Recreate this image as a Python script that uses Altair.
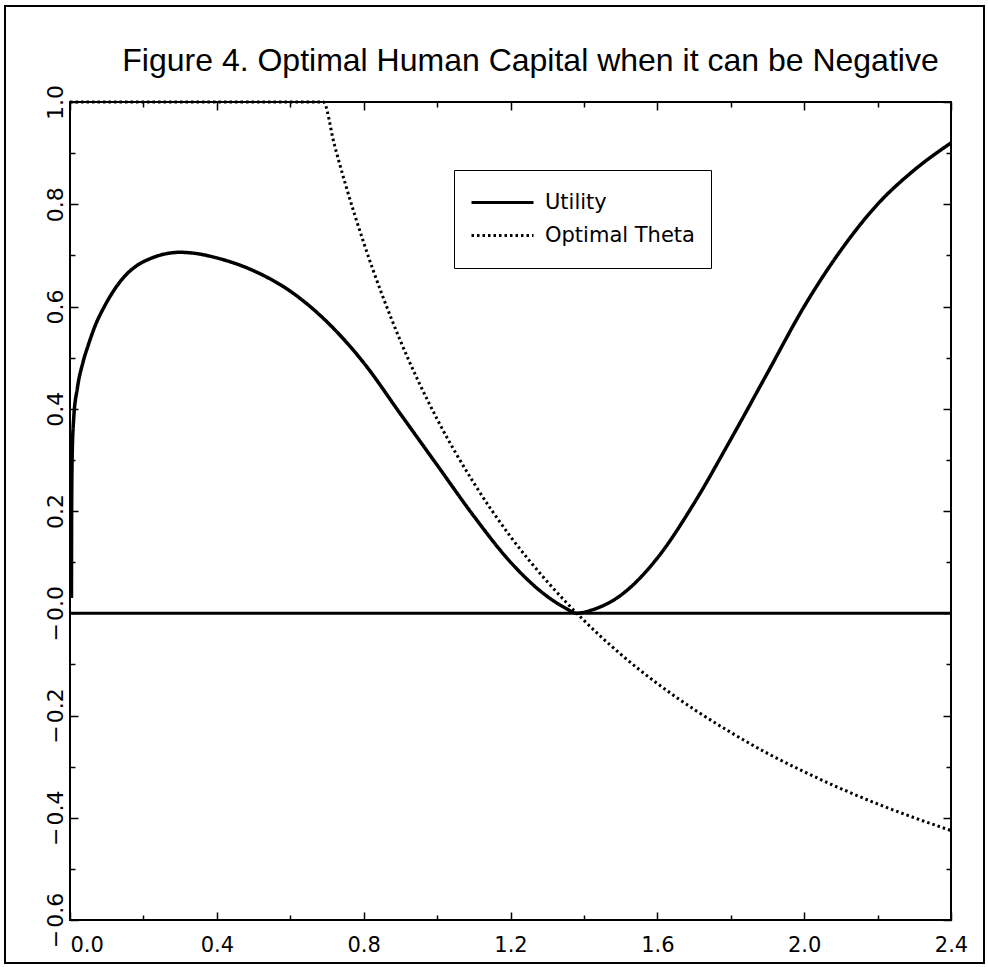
import altair as alt
import pandas as pd

# ---- data ----
series = ["Utility", "Optimal Theta"]

util_x = [0.004, 0.0045, 0.006, 0.01, 0.02, 0.035, 0.05, 0.07, 0.09, 0.12, 0.15, 0.18,
          0.22, 0.26, 0.3, 0.34, 0.4, 0.5, 0.6, 0.7, 0.8, 0.9, 1.0,
          1.1, 1.2, 1.3, 1.35, 1.38, 1.42, 1.5, 1.6, 1.7, 1.8, 1.9, 2.0, 2.1, 2.2, 2.3, 2.4]
util_y = [0.03, 0.2, 0.31, 0.38, 0.44, 0.49, 0.525, 0.565, 0.595, 0.632, 0.66, 0.679,
          0.694, 0.703, 0.706, 0.704, 0.695, 0.67, 0.63, 0.57, 0.49, 0.39, 0.29,
          0.19, 0.1, 0.033, 0.01, 0.0, 0.006, 0.035, 0.108, 0.215, 0.34, 0.47,
          0.6, 0.71, 0.8, 0.867, 0.92]

theta_x = [0.0, 0.69, 0.72, 0.75, 0.8, 0.9, 1.0, 1.1, 1.2, 1.3, 1.4, 1.5, 1.6,
           1.7, 1.8, 1.9, 2.0, 2.1, 2.2, 2.3, 2.4]
theta_y = [1.0, 1.0, 0.917, 0.84, 0.725, 0.533, 0.38, 0.255, 0.15, 0.062, -0.014,
           -0.08, -0.1375, -0.188, -0.233, -0.274, -0.31, -0.343, -0.373, -0.4, -0.425]

zero_x = [0.0, 2.4]
zero_y = [0.0, 0.0]

x_labels = [0.0, 0.4, 0.8, 1.2, 1.6, 2.0, 2.4]
x_ticks = [0.0, 0.2, 0.4, 0.6, 0.8, 1.0, 1.2, 1.4, 1.6, 1.8, 2.0, 2.2, 2.4]
y_labels = [-0.6, -0.4, -0.2, 0.0, 0.2, 0.4, 0.6, 0.8, 1.0]
y_ticks = [-0.6, -0.5, -0.4, -0.3, -0.2, -0.1, 0.0, 0.1, 0.2, 0.3, 0.4, 0.5,
           0.6, 0.7, 0.8, 0.9, 1.0]

TITLE = "Figure 4. Optimal Human Capital when it can be Negative"

# ---- layout ----
W, H = 881, 818
LABEL_FONT = "DejaVu Sans"

util_df = pd.DataFrame({"x": util_x, "y": util_y, "series": series[0]})
theta_df = pd.DataFrame({"x": theta_x, "y": theta_y, "series": series[1]})
zero_df = pd.DataFrame({"x": zero_x, "y": zero_y})
one_df = pd.DataFrame({"t": [TITLE]})

xs = alt.Scale(domain=[0, 2.4], nice=False, zero=False)
ys = alt.Scale(domain=[-0.6, 1.0], nice=False, zero=False)

dash_scale = alt.Scale(domain=series, range=[[1, 0], [2.5, 3]])

x_major_test = "abs(datum.value/0.4 - round(datum.value/0.4)) < 0.01"
y_major_test = "abs(datum.value/0.2 - round(datum.value/0.2)) < 0.01"

x_label_axis = alt.Axis(
    orient="bottom", values=x_labels, ticks=False, domain=False, grid=False,
    format=".1f", labelFont=LABEL_FONT, labelFontSize=21,
    labelColor="black", labelPadding=14, labelFlush=False,
    labelAlign={"condition": {"test": "datum.value < 0.01", "value": "left"}, "value": "center"},
    title=None,
)
y_label_axis = alt.Axis(
    orient="left", values=y_labels, ticks=False, domain=False, grid=False,
    labelExpr="datum.value < 0.001 ? '\u2212\u200a' + format(abs(datum.value), '.1f') : format(datum.value, '.1f')",
    labelFont=LABEL_FONT, labelFontSize=22, labelColor="black",
    labelAngle=-90, labelAlign="center", labelBaseline="alphabetic", labelPadding=8,
    labelFlush=False, title=None,
)


def tick_axis(orient, values, test, offset):
    return alt.Axis(
        orient=orient, values=values, labels=False, domain=False, grid=False,
        offset=offset, tickColor="black", tickWidth=1.5,
        tickSize={"condition": {"test": test, "value": 8}, "value": 5},
        title=None,
    )


utility = alt.Chart(util_df).mark_line(color="black", strokeWidth=3.5, interpolate="monotone").encode(
    x=alt.X("x:Q", scale=xs, axis=x_label_axis),
    y=alt.Y("y:Q", scale=ys, axis=y_label_axis),
    strokeDash=alt.StrokeDash("series:N", scale=dash_scale, legend=alt.Legend(title=None)),
)

theta = alt.Chart(theta_df).mark_line(color="black", strokeWidth=3, interpolate="monotone").encode(
    x=alt.X("x:Q", scale=xs, axis=tick_axis("top", x_ticks, x_major_test, -H)),
    y=alt.Y("y:Q", scale=ys, axis=tick_axis("right", y_ticks, y_major_test, -W)),
    strokeDash=alt.StrokeDash("series:N", scale=dash_scale, legend=alt.Legend(title=None)),
)

zero = alt.Chart(zero_df).mark_line(color="black", strokeWidth=3).encode(
    x=alt.X("x:Q", scale=xs, axis=tick_axis("bottom", x_ticks, x_major_test, -H)),
    y=alt.Y("y:Q", scale=ys, axis=tick_axis("left", y_ticks, y_major_test, -W)),
)

frame = alt.Chart(one_df).mark_rect(
    fillOpacity=0, stroke="black", strokeWidth=2
).encode(
    x=alt.value(-65), x2=alt.value(914), y=alt.value(-96), y2=alt.value(861)
)

title = alt.Chart(one_df).mark_text(
    font="Liberation Sans", fontSize=32, color="black", align="center", baseline="alphabetic"
).encode(
    x=alt.value(W / 2 + 20), y=alt.value(-31), text="t:N"
)

chart = alt.layer(zero, utility, theta, frame, title).resolve_axis(
    x="independent", y="independent"
).properties(
    width=W, height=H,
    autosize=alt.AutoSizeParams(type="none"),
    padding={"left": 70, "top": 102, "right": 37, "bottom": 47},
    background="white",
).configure_view(
    stroke="black", strokeWidth=2
).configure_legend(
    orient="none", legendX=384, legendY=68,
    strokeColor="black", fillColor="white", padding=16, clipHeight=33, rowPadding=0,
    symbolType="stroke", symbolSize=3844, symbolStrokeWidth=3,
    symbolStrokeColor="black", labelFont=LABEL_FONT, labelFontSize=21,
    labelColor="black", labelOffset=10,
)

chart.save("out.html", embed_options={"renderer": "svg", "actions": False})
